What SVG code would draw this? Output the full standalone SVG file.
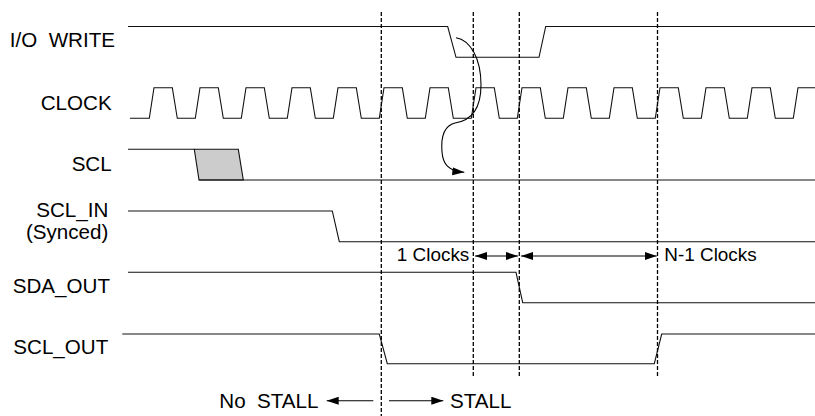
<svg xmlns="http://www.w3.org/2000/svg" width="815" height="416" viewBox="0 0 815 416">
<style>
.sig{fill:none;stroke:#111;stroke-width:1.1}
.dash{fill:none;stroke:#000;stroke-width:1.3;stroke-dasharray:4 2}
.lbl{font-family:"Liberation Sans",Arial,sans-serif;font-size:20.6px;fill:#000;white-space:pre}
.clk{font-family:"Liberation Sans",Arial,sans-serif;font-size:18.9px;fill:#000}
.arr{fill:none;stroke:#000;stroke-width:1.1}
</style>
<defs>
<marker id="ah" markerUnits="userSpaceOnUse" markerWidth="13" markerHeight="9" refX="12" refY="4" orient="auto-start-reverse">
<path d="M0,0 L12,4 L0,8 z" fill="#000"/>
</marker>
</defs>
<rect width="815" height="416" fill="#fff"/>

<g id="io_write">
<text class="lbl" x="115" y="47.3" text-anchor="end">I/O  WRITE</text>
<path class="sig" d="M128,26.5 H447.7 L456,57.3 H539 L545.7,26.5 H815"/>
</g>

<g id="clock">
<text class="lbl" x="111.7" y="110" text-anchor="end">CLOCK</text>
<path class="sig" d="M130,118.3 H149.3 l4.7,-30.6 h18.3 l5,30.6 h18 l4.7,-30.6 h18.3 l5,30.6 h18 l4.7,-30.6 h18.3 l5,30.6 h18 l4.7,-30.6 h18.3 l5,30.6 h18 l4.7,-30.6 h18.3 l5,30.6 h18 l4.7,-30.6 h18.3 l5,30.6 h18 l4.7,-30.6 h18.3 l5,30.6 h18 l4.7,-30.6 h18.3 l5,30.6 h18 l4.7,-30.6 h18.3 l5,30.6 h18 l4.7,-30.6 h18.3 l5,30.6 h18 l4.7,-30.6 h18.3 l5,30.6 h18 l4.7,-30.6 h18.3 l5,30.6 h18 l4.7,-30.6 h18.3 l5,30.6 h18 l4.7,-30.6 h18.3 l5,30.6 h18 l4.7,-30.6 H815"/>
</g>

<g id="scl">
<text class="lbl" x="111.7" y="170.7" text-anchor="end">SCL</text>
<polygon points="194.3,149.3 238.3,149.3 243.3,180 199,180" fill="#cccccc" stroke="#111" stroke-width="1.1"/>
<path class="sig" d="M128,149.3 H194.3 M199,180 H815"/>
</g>

<g id="scl_in">
<text class="lbl" x="108.3" y="217.3" text-anchor="end">SCL_IN</text>
<text class="lbl" x="108.3" y="238.5" text-anchor="end">(Synced)</text>
<path class="sig" d="M128,211 H332.3 L339.3,241.7 H815"/>
</g>

<g id="sda_out">
<text class="lbl" x="110" y="293.3" text-anchor="end">SDA_OUT</text>
<path class="sig" d="M128,272.3 H516 L522.7,302.7 H815"/>
</g>

<g id="scl_out">
<text class="lbl" x="108.3" y="354" text-anchor="end">SCL_OUT</text>
<path class="sig" d="M122.3,334 H379.3 L387.3,363.7 H654.3 L661.7,334 H815"/>
</g>

<g id="markers">
<line class="dash" x1="381.3" y1="12" x2="381.3" y2="416"/>
<line class="dash" x1="473.3" y1="12" x2="473.3" y2="377"/>
<line class="dash" x1="519.3" y1="12" x2="519.3" y2="377"/>
<line class="dash" x1="657.5" y1="12" x2="657.5" y2="377"/>
</g>

<g id="annotations">
<text class="clk" x="469.3" y="261" text-anchor="end">1 Clocks</text>
<text class="clk" x="664.3" y="261">N-1 Clocks</text>
<text class="lbl" x="219.3" y="408.3">No  STALL</text>
<text class="lbl" x="450" y="408.3">STALL</text>
</g>

<g id="connectors">
<line class="arr" x1="475" y1="256" x2="518" y2="256" marker-start="url(#ah)" marker-end="url(#ah)"/>
<line class="arr" x1="521" y1="256" x2="656.7" y2="256" marker-start="url(#ah)" marker-end="url(#ah)"/>
<line class="arr" x1="373.3" y1="400.7" x2="326.7" y2="400.7" marker-end="url(#ah)"/>
<line class="arr" x1="389" y1="400.7" x2="443.3" y2="400.7" marker-end="url(#ah)"/>
<path class="arr" d="M456,37.7 C470,40 481,58 481,85 C481,112 468,121 455,123 C443,126 441,140 442,152 C443,164 448,171 464.3,172.3" marker-end="url(#ah)"/>
</g>
</svg>
